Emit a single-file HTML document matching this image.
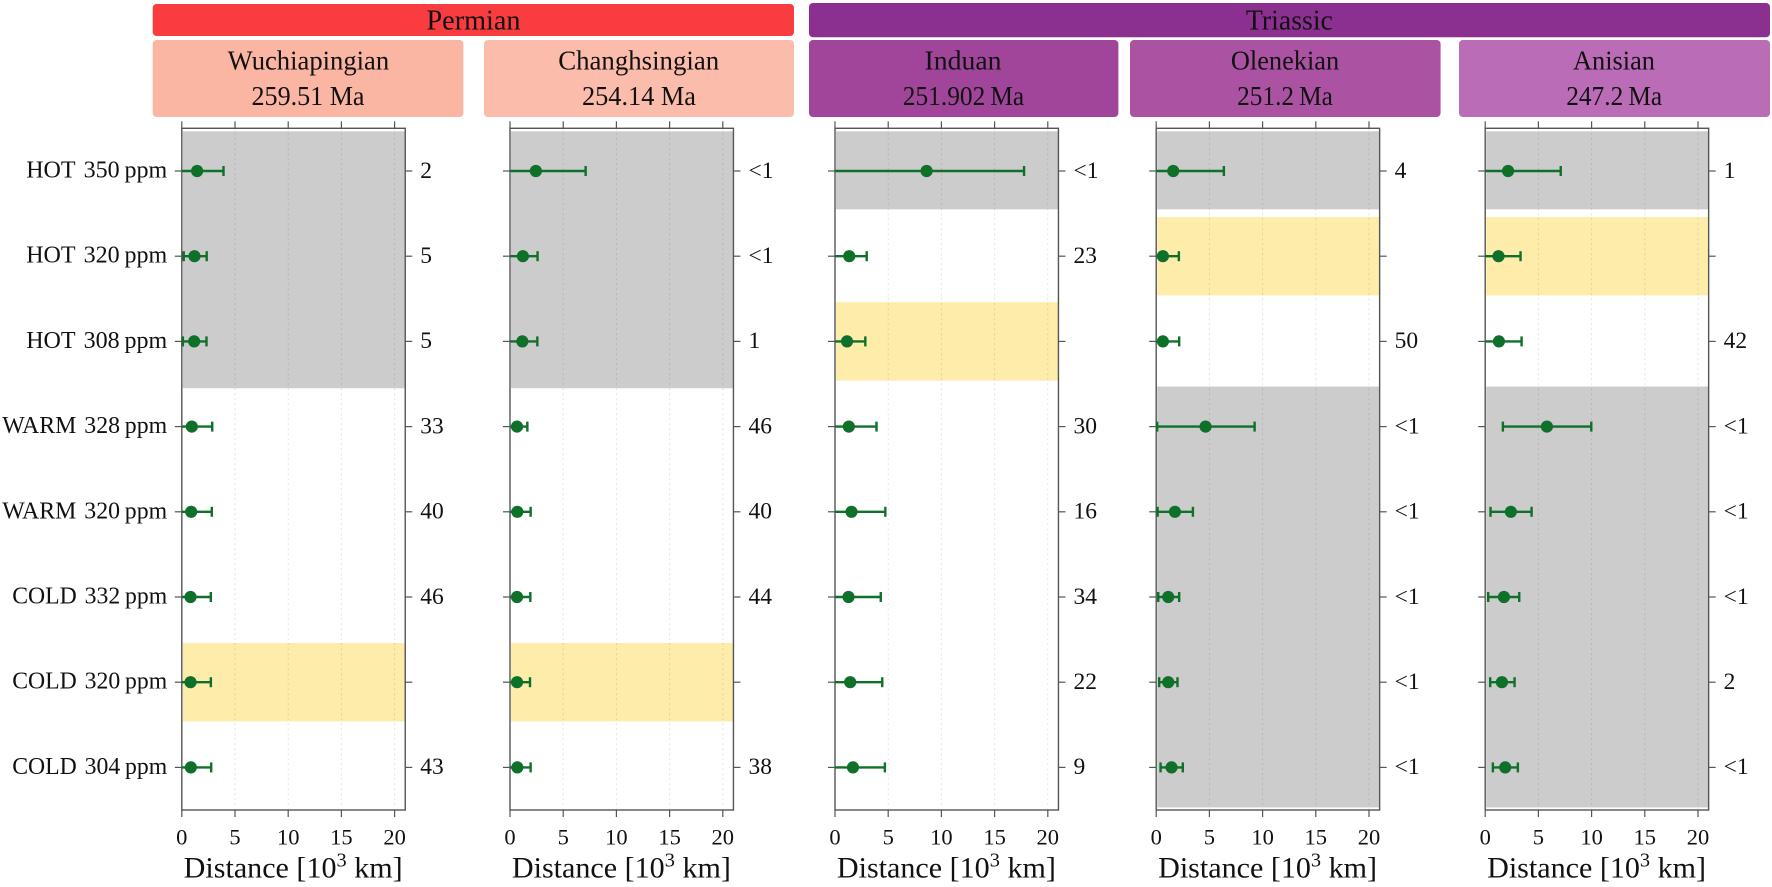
<!DOCTYPE html>
<html lang="en">
<head>
<meta charset="utf-8">
<title>Distance by geological stage</title>
<style>
html,body{margin:0;padding:0;background:#fff;}
svg{display:block;}
text{font-family:"Liberation Serif",serif;fill:#111;}
</style>
</head>
<body>
<svg id="chart" xmlns="http://www.w3.org/2000/svg" width="1772" height="887" viewBox="0 0 1772 887">
  <g>
    <rect x="152.7" y="4" width="641.3" height="32" rx="4" fill="#f93c40"/>
    <text x="473.5" y="29.5" font-size="28" text-anchor="middle" textLength="94" lengthAdjust="spacingAndGlyphs">Permian</text>
    <rect x="809" y="3" width="961" height="34.3" rx="4" fill="#8b2f90"/>
    <text x="1289.4" y="29.5" font-size="28" text-anchor="middle" textLength="87" lengthAdjust="spacingAndGlyphs">Triassic</text>
  </g>
  <g>
    <rect x="152.7" y="40" width="310.7" height="77" rx="4" fill="#fbb5a3"/>
    <text x="308.4" y="69.6" font-size="27.5" text-anchor="middle" textLength="161.5" lengthAdjust="spacingAndGlyphs">Wuchiapingian</text>
    <text x="308" y="105" font-size="27.5" text-anchor="middle" textLength="113" lengthAdjust="spacingAndGlyphs">259.51 Ma</text>
    <rect x="484" y="40" width="310" height="77" rx="4" fill="#fcbcab"/>
    <text x="638.7" y="69.6" font-size="27.5" text-anchor="middle" textLength="161" lengthAdjust="spacingAndGlyphs">Changhsingian</text>
    <text x="639" y="105" font-size="27.5" text-anchor="middle" textLength="114" lengthAdjust="spacingAndGlyphs">254.14 Ma</text>
    <rect x="809" y="40" width="309.4" height="77" rx="4" fill="#a1459a"/>
    <text x="963" y="69.6" font-size="27.5" text-anchor="middle" textLength="77" lengthAdjust="spacingAndGlyphs">Induan</text>
    <text x="963.5" y="105" font-size="27.5" text-anchor="middle" textLength="121.4" lengthAdjust="spacingAndGlyphs">251.902&#8201;Ma</text>
    <rect x="1130" y="40" width="310.6" height="77" rx="4" fill="#ab52a2"/>
    <text x="1285" y="69.6" font-size="27.5" text-anchor="middle" textLength="108.3" lengthAdjust="spacingAndGlyphs">Olenekian</text>
    <text x="1285" y="105" font-size="27.5" text-anchor="middle" textLength="95.7" lengthAdjust="spacingAndGlyphs">251.2&#8201;Ma</text>
    <rect x="1459" y="40" width="311" height="77" rx="4" fill="#bb6cb6"/>
    <text x="1614" y="69.6" font-size="27.5" text-anchor="middle" textLength="82" lengthAdjust="spacingAndGlyphs">Anisian</text>
    <text x="1614.2" y="105" font-size="27.5" text-anchor="middle" textLength="96" lengthAdjust="spacingAndGlyphs">247.2&#8201;Ma</text>
  </g>
  <g id="row-labels"></g>
  <g id="panels"></g>
</svg>
<script>
// ---- Data ----
const stageNames = ['wuchiapingian', 'changhsingian', 'induan', 'olenekian', 'anisian'];
const rowLabels = ['HOT\u2004350\u2009ppm', 'HOT\u2004320\u2009ppm', 'HOT\u2004308\u2009ppm', 'WARM\u2004328\u2009ppm', 'WARM\u2004320\u2009ppm', 'COLD\u2004332\u2009ppm', 'COLD\u2004320\u2009ppm', 'COLD\u2004304\u2009ppm'];
const xTicks = [0, 5, 10, 15, 20];

const wuchiapingianMean = [1.44, 1.19, 1.16, 0.94, 0.88, 0.82, 0.82, 0.85];
const wuchiapingianLow  = [0, 0.18, 0.1, 0, 0, 0, 0, 0];
const wuchiapingianHigh = [3.92, 2.34, 2.32, 2.86, 2.82, 2.73, 2.73, 2.76];
const wuchiapingianShare = ['2', '5', '5', '33', '40', '46', '', '43'];

const changhsingianMean = [2.43, 1.21, 1.16, 0.66, 0.69, 0.66, 0.66, 0.69];
const changhsingianLow  = [0, 0, 0, 0, 0, 0, 0, 0];
const changhsingianHigh = [7.11, 2.59, 2.57, 1.63, 1.94, 1.91, 1.88, 1.94];
const changhsingianShare = ['<1', '<1', '1', '46', '40', '44', '', '38'];

const induanMean = [8.61, 1.34, 1.13, 1.3, 1.55, 1.27, 1.43, 1.69];
const induanLow  = [0, 0, 0, 0, 0, 0, 0, 0];
const induanHigh = [17.77, 2.98, 2.85, 3.9, 4.73, 4.3, 4.44, 4.69];
const induanShare = ['<1', '23', '', '30', '16', '34', '22', '9'];

const olenekianMean = [1.6, 0.63, 0.63, 4.64, 1.76, 1.13, 1.13, 1.44];
const olenekianLow  = [0, 0, 0, 0.09, 0.13, 0.19, 0.28, 0.41];
const olenekianHigh = [6.36, 2.13, 2.16, 9.25, 3.45, 2.16, 2.0, 2.5];
const olenekianShare = ['4', '', '50', '<1', '<1', '<1', '<1', '<1'];

const anisianMean = [2.15, 1.25, 1.29, 5.8, 2.41, 1.76, 1.57, 1.88];
const anisianLow  = [0, 0, 0, 1.66, 0.5, 0.28, 0.47, 0.72];
const anisianHigh = [7.1, 3.32, 3.42, 9.97, 4.36, 3.2, 2.76, 3.07];
const anisianShare = ['1', '', '42', '<1', '<1', '<1', '2', '<1'];

// Highlight bands, in row units: [firstEdge, lastEdge]
const wuchiapingianGrey = [[-0.466, 2.55]];
const wuchiapingianYellow = [[5.54, 6.46]];
const changhsingianGrey = [[-0.466, 2.55]];
const changhsingianYellow = [[5.54, 6.46]];
const induanGrey = [[-0.466, 0.45]];
const induanYellow = [[1.54, 2.46]];
const olenekianGrey = [[-0.466, 0.45], [2.53, 7.47]];
const olenekianYellow = [[0.54, 1.46]];
const anisianGrey = [[-0.466, 0.45], [2.53, 7.47]];
const anisianYellow = [[0.54, 1.46]];

const means = [wuchiapingianMean, changhsingianMean, induanMean, olenekianMean, anisianMean];
const lows = [wuchiapingianLow, changhsingianLow, induanLow, olenekianLow, anisianLow];
const highs = [wuchiapingianHigh, changhsingianHigh, induanHigh, olenekianHigh, anisianHigh];
const shares = [wuchiapingianShare, changhsingianShare, induanShare, olenekianShare, anisianShare];
const greys = [wuchiapingianGrey, changhsingianGrey, induanGrey, olenekianGrey, anisianGrey];
const yellows = [wuchiapingianYellow, changhsingianYellow, induanYellow, olenekianYellow, anisianYellow];

// ---- Layout ----
const panelOrigin = [181.8, 510, 835, 1156.2, 1485.2];
const pxPerUnit = 10.64;
const xMax = 21;
const axisTop = 128.3;
const axisBottom = 810;
const firstRowY = 171;
const rowStep = 85.2;
const axisColor = '#555';
const markColor = '#0f702a';
const SVG_NS = 'http://www.w3.org/2000/svg';

function xScale(panel, value) { return panelOrigin[panel] + value * pxPerUnit; }
function yScale(row) { return firstRowY + row * rowStep; }
function make(tag, attrs, parent, text) {
  const el = document.createElementNS(SVG_NS, tag);
  for (const k in attrs) el.setAttribute(k, attrs[k]);
  if (text !== undefined) el.textContent = text;
  parent.appendChild(el);
  return el;
}

const rowLabelLayer = document.getElementById('row-labels');
const panelLayer = document.getElementById('panels');

rowLabels.forEach(function (label, r) {
  const width = label.startsWith('HOT') ? 141 : label.startsWith('WARM') ? 165 : 155;
  const t = make('text', { x: 167.2, y: yScale(r) + 6.5, 'font-size': 24.5, 'text-anchor': 'end', textLength: width, lengthAdjust: 'spacingAndGlyphs' }, rowLabelLayer, label);
  
  
});

stageNames.forEach(function (stage, p) {
  const g = make('g', {}, panelLayer);
  
  
  const left = xScale(p, 0);
  const right = xScale(p, xMax);

  greys[p].forEach(function (span) {
    const band = make('rect', { x: left + 1, y: yScale(span[0]), width: right - left - 1, height: yScale(span[1]) - yScale(span[0]), fill: '#cccccc' }, g);
    
    
  });
  yellows[p].forEach(function (span) {
    const band = make('rect', { x: left + 1, y: yScale(span[0]), width: right - left - 1, height: yScale(span[1]) - yScale(span[0]), fill: '#feecaa' }, g);
    
    
  });

  xTicks.forEach(function (tick) {
    const px = xScale(p, tick);
    if (tick > 0) {
      const grid = make('line', { x1: px, x2: px, y1: axisTop, y2: axisBottom, stroke: 'rgba(0,0,0,0.11)', 'stroke-width': 1, 'stroke-dasharray': '2 3' }, g);
      
      
    }
    const topTick = make('line', { x1: px, x2: px, y1: axisTop - 7, y2: axisTop, stroke: axisColor, 'stroke-width': 1.2 }, g);
    
    
    const bottomTick = make('line', { x1: px, x2: px, y1: axisBottom, y2: axisBottom + 7, stroke: axisColor, 'stroke-width': 1.2 }, g);
    
    
    const tickLabel = make('text', { x: px, y: 844.5, 'font-size': 22.5, 'text-anchor': 'middle' }, g, String(tick));
    
    
  });

  const frame = make('rect', { x: left, y: axisTop, width: right - left, height: axisBottom - axisTop, fill: 'none', stroke: axisColor, 'stroke-width': 1.4 }, g);
  
  

  rowLabels.forEach(function (label, r) {
    const cy = yScale(r);
    const leftTick = make('line', { x1: left - 7, x2: left, y1: cy, y2: cy, stroke: axisColor, 'stroke-width': 1.2 }, g);
    
    
    const rightTick = make('line', { x1: right, x2: right + 7, y1: cy, y2: cy, stroke: axisColor, 'stroke-width': 1.2 }, g);
    
    

    const xLow = xScale(p, lows[p][r]);
    const xHigh = xScale(p, highs[p][r]);
    const bar = make('line', { x1: xLow, x2: xHigh, y1: cy, y2: cy, stroke: markColor, 'stroke-width': 2.4 }, g);
    
    
    if (lows[p][r] > 0) {
      const lowCap = make('line', { x1: xLow, x2: xLow, y1: cy - 5, y2: cy + 5, stroke: markColor, 'stroke-width': 2.4 }, g);
      
      
    }
    const highCap = make('line', { x1: xHigh, x2: xHigh, y1: cy - 5, y2: cy + 5, stroke: markColor, 'stroke-width': 2.4 }, g);
    
    
    const dot = make('circle', { cx: xScale(p, means[p][r]), cy: cy, r: 6.1, fill: markColor }, g);
    
    

    if (shares[p][r] !== '') {
      const share = make('text', { x: right + 15, y: cy + 6.8, 'font-size': 23.5 }, g, shares[p][r]);
      
      
    }
  });

  const xTitle = make('text', { x: left + 1.9, y: 877.4, 'font-size': 29.5, textLength: 219, lengthAdjust: 'spacingAndGlyphs' }, g);
  
  
  xTitle.appendChild(document.createTextNode('Distance [10'));
  make('tspan', { dy: -11, 'font-size': 20 }, xTitle, '3');
  make('tspan', { dy: 11 }, xTitle, ' km]');
});
</script>
</body>
</html>
